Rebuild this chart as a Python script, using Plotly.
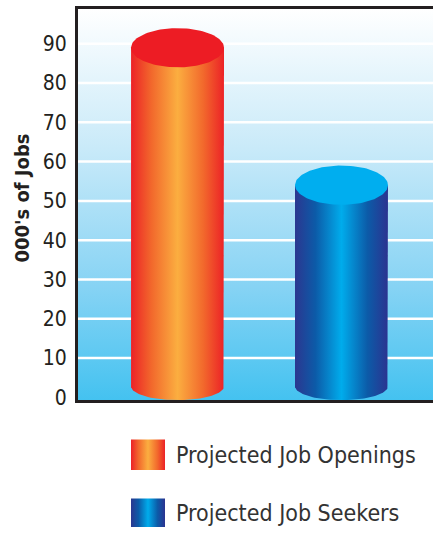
import numpy as np
import plotly.graph_objects as go

# Chart data
categories = ["Projected Job Openings", "Projected Job Seekers"]
values = [89, 54]
y_ticks = [0, 10, 20, 30, 40, 50, 60, 70, 80, 90]

# Styling
FONT = "Liberation Sans Narrow, DejaVu Sans Condensed, Roboto, Arial"
body_scales = [
    [[0.0, "#ec2227"], [0.22, "#f2682c"], [0.5, "#fbae40"], [0.78, "#f2682c"], [1.0, "#ec2227"]],
    [[0.0, "#2b3790"], [0.22, "#0c5ba8"], [0.5, "#00acec"], [0.78, "#0c5ba8"], [1.0, "#2b3390"]],
]
cap_colors = ["#ed1c24", "#00aeef"]

Y_MIN, Y_MAX = -0.75, 98.9
X_MIN, X_MAX = -0.607, 1.558
HALF_W = 0.2835      # half width of a cylinder in x units
RY_TOP = 5.0         # vertical radius of the top ellipse (y units)
RY_BOT = 3.5         # vertical radius of the bottom ellipse (y units)

W, H = 433, 536
PLOT_TOP, PLOT_BOTTOM = 9, 407   # plot frame, pixels from the top


def py(y_from_top):
    """Pixel row (from the top) -> overlay axis coordinate."""
    return H - y_from_top


fig = go.Figure()

# Plot area background: vertical gradient from white to sky blue
fig.add_trace(go.Scatter(
    x=[X_MIN, X_MAX, X_MAX, X_MIN, X_MIN],
    y=[Y_MIN, Y_MIN, Y_MAX, Y_MAX, Y_MIN],
    mode="lines", line=dict(width=0), fill="toself",
    fillgradient=dict(type="vertical",
                      colorscale=[[0, "#40c1f0"], [0.3, "#86d3f4"],
                                  [0.65, "#c9eaf9"], [1, "#ffffff"]],
                      start=Y_MIN, stop=Y_MAX),
    hoverinfo="skip", showlegend=False,
))

# White gridlines
for t in y_ticks[1:]:
    fig.add_trace(go.Scatter(
        x=[X_MIN, X_MAX], y=[t, t], mode="lines",
        line=dict(color="white", width=2.5),
        hoverinfo="skip", showlegend=False,
    ))

# Cylinders
theta = np.linspace(0, np.pi, 60)
base_center = Y_MIN + RY_BOT
for i, (name, v) in enumerate(zip(categories, values)):
    cx = float(i)
    bx = np.cos(theta) * HALF_W + cx          # bottom arc, right -> left
    by = base_center - np.sin(theta) * RY_BOT
    xs = [cx - HALF_W, cx - HALF_W, cx + HALF_W] + list(bx)
    ys = [base_center, v, v] + list(by)
    fig.add_trace(go.Scatter(
        x=xs, y=ys, mode="lines", line=dict(width=0), fill="toself",
        fillgradient=dict(type="horizontal", colorscale=body_scales[i],
                          start=cx - HALF_W, stop=cx + HALF_W),
        hoverinfo="skip", showlegend=False,
    ))
    t2 = np.linspace(0, 2 * np.pi, 120)
    fig.add_trace(go.Scatter(
        x=cx + HALF_W * np.cos(t2), y=v + RY_TOP * np.sin(t2),
        mode="lines", line=dict(width=0, color=cap_colors[i]),
        fill="toself", fillcolor=cap_colors[i],
        hoverinfo="skip", showlegend=False,
    ))

# Legend swatches and labels on a pixel-scaled overlay
legend_rows = [(447, 478, 463), (507, 540, 522)]
for i, name in enumerate(categories):
    top, bottom, mid = legend_rows[i]
    fig.add_trace(go.Scatter(
        x=[131, 165, 165, 131, 131],
        y=[py(bottom), py(bottom), py(top), py(top), py(bottom)],
        xaxis="x2", yaxis="y2",
        mode="lines", line=dict(width=0), fill="toself",
        fillgradient=dict(type="horizontal", colorscale=body_scales[i],
                          start=131, stop=165),
        hoverinfo="skip", showlegend=False,
    ))
    fig.add_annotation(
        x=174, y=py(mid), xref="x2", yref="y2",
        text=name, showarrow=False, xanchor="left", yanchor="middle",
        font=dict(family=FONT, size=23, color="#333333"),
    )

# Y-axis title
fig.add_annotation(
    x=22, y=py(202), xref="x2", yref="y2",
    text="<b>000's of Jobs</b>", showarrow=False, textangle=-90,
    font=dict(family=FONT, size=20, color="#231f20"),
)

fig.update_layout(
    width=W, height=H,
    margin=dict(l=0, r=0, t=0, b=0),
    paper_bgcolor="white", plot_bgcolor="rgba(0,0,0,0)",
    xaxis=dict(domain=[78 / W, 1], range=[X_MIN, X_MAX],
               showgrid=False, zeroline=False, showticklabels=False,
               showline=True, linecolor="#231f20", linewidth=3, mirror=True,
               fixedrange=True),
    yaxis=dict(domain=[(H - PLOT_BOTTOM) / H, (H - PLOT_TOP) / H],
               range=[Y_MIN, Y_MAX],
               tickvals=y_ticks, showgrid=False, zeroline=False,
               showline=True, linecolor="#231f20", linewidth=3,
               ticks="", ticklabelstandoff=4,
               tickfont=dict(family=FONT, size=21, color="#231f20"),
               fixedrange=True),
    xaxis2=dict(domain=[0, 1], range=[0, W], visible=False, fixedrange=True),
    yaxis2=dict(domain=[0, 1], range=[0, H], visible=False, fixedrange=True),
    showlegend=False,
)

fig.write_html("out.html")
